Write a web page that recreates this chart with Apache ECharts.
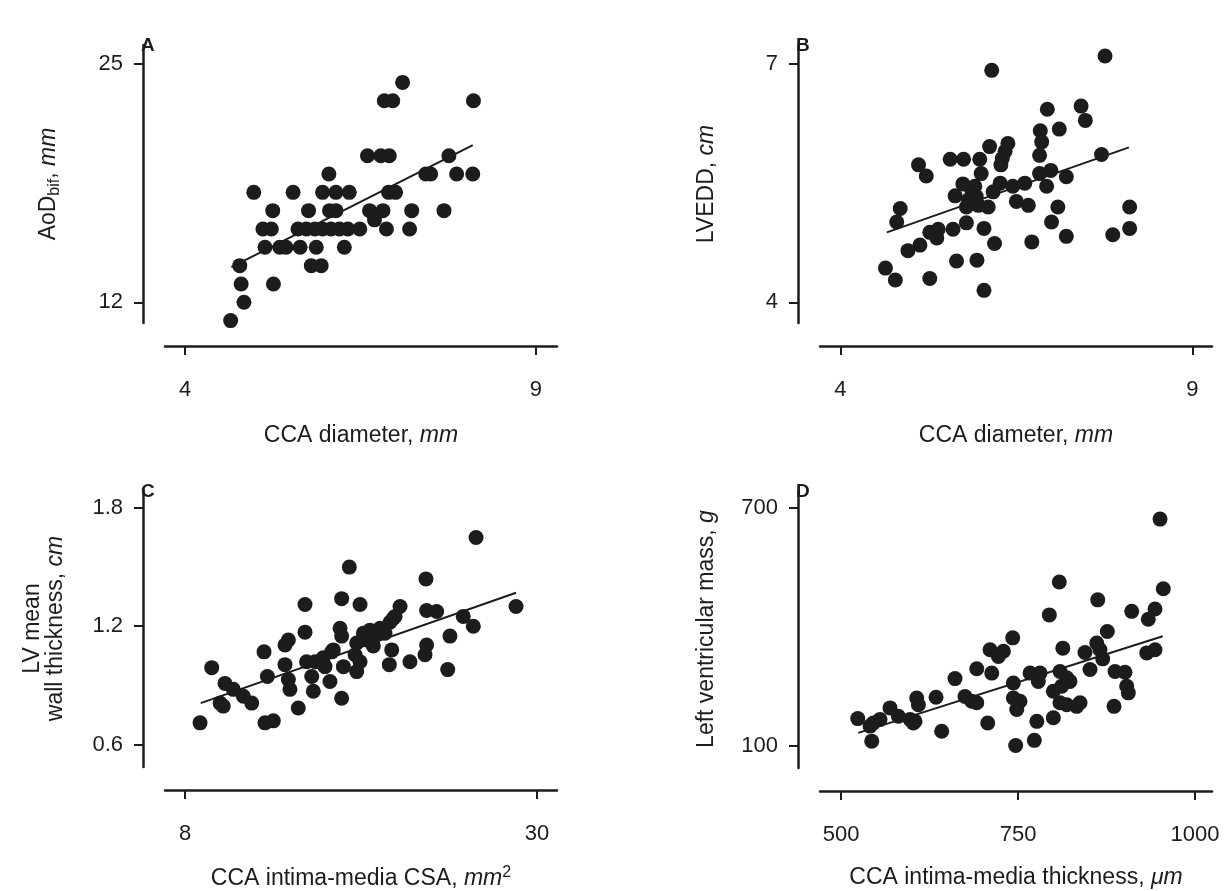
<!DOCTYPE html>
<html>
<head>
<meta charset="utf-8">
<script src="https://cdn.jsdelivr.net/npm/echarts@6/dist/echarts.min.js"></script>
<style>
  html, body { margin: 0; padding: 0; background: #fff; }
  #chart { width: 1231px; height: 891px; }
</style>
</head>
<body>
<div id="chart"></div>
<script>
// A: CCA diameter (mm) vs AoD bif (mm)
const ptsA = [
    [7.10, 24], [6.84, 23], [6.96, 23], [8.11, 23],
    [6.60, 20], [6.79, 20], [6.91, 20], [7.76, 20],
    [7.43, 19], [7.50, 19], [7.87, 19], [8.10, 19], [6.05, 19],
    [4.98, 18], [5.54, 18], [5.96, 18], [6.15, 18], [6.34, 18], [6.90, 18], [7.00, 18],
    [5.25, 17], [5.76, 17], [6.06, 17], [6.15, 17], [6.63, 17], [6.82, 17], [6.70, 16.5], [7.23, 17], [7.69, 17],
    [5.11, 16], [5.23, 16], [5.61, 16], [5.73, 16], [5.85, 16], [5.96, 16], [6.08, 16], [6.20, 16], [6.32, 16], [6.49, 16], [6.87, 16], [7.20, 16],
    [5.14, 15], [5.35, 15], [5.44, 15], [5.64, 15], [5.87, 15], [6.27, 15],
    [5.80, 14], [5.94, 14], [4.78, 14],
    [4.80, 13], [5.26, 13],
    [4.84, 12],
    [4.65, 11]
];
const lineA = [[4.66, 13.92], [8.10, 20.58]];

// B: CCA diameter (mm) vs LVEDD (cm)
const ptsB = [
    [7.76, 7.10], [6.15, 6.92], [6.94, 6.43], [7.42, 6.47], [7.48, 6.29], [7.11, 6.18], [6.84, 6.16], [6.86, 6.02], [6.83, 5.85], [7.71, 5.86],
    [6.12, 5.96], [6.38, 6.00], [6.34, 5.90], [6.30, 5.81], [6.28, 5.73], [5.56, 5.80], [5.75, 5.80], [5.98, 5.80], [5.11, 5.73], [5.22, 5.59],
    [6.00, 5.62], [6.83, 5.62], [6.99, 5.66], [7.21, 5.58], [6.93, 5.46], [5.74, 5.49], [5.91, 5.46], [6.27, 5.50], [6.45, 5.46], [6.62, 5.50],
    [6.17, 5.39], [5.63, 5.34], [5.82, 5.29], [5.93, 5.33], [5.79, 5.20], [5.96, 5.22], [6.10, 5.20], [6.50, 5.27], [6.67, 5.22], [7.09, 5.20],
    [8.11, 5.20], [4.85, 5.18], [4.80, 5.01], [7.00, 5.01], [5.79, 5.00], [5.60, 4.92], [5.39, 4.92], [5.27, 4.88], [5.37, 4.81], [6.04, 4.93],
    [6.19, 4.74], [6.72, 4.76], [7.21, 4.83], [7.87, 4.85], [8.11, 4.93], [5.13, 4.72], [4.96, 4.65], [5.65, 4.52], [5.94, 4.53], [4.64, 4.43],
    [4.78, 4.28], [5.27, 4.30], [6.04, 4.15], [5.86, 5.43]
];
const lineB = [[4.66, 4.88], [8.10, 5.95]];

// C: CCA intima-media CSA (mm2) vs LV mean wall thickness (cm)
const ptsC = [
    [26.19, 1.65], [18.27, 1.50], [23.06, 1.44], [15.5, 1.31], [17.79, 1.34], [18.94, 1.31], [21.44, 1.30], [28.69, 1.30], [23.1, 1.28], [23.73, 1.275],
    [25.39, 1.25], [26.02, 1.20], [21.02, 1.24], [20.81, 1.22], [17.69, 1.19], [17.79, 1.15], [15.5, 1.17], [19.56, 1.18], [20.19, 1.19], [20.5, 1.165],
    [19.35, 1.13], [18.73, 1.115], [14.46, 1.13], [14.25, 1.105], [12.94, 1.07], [17.27, 1.08], [19.77, 1.10], [20.92, 1.08], [23.1, 1.105], [23.0, 1.055],
    [24.56, 1.15], [9.67, 0.99], [14.25, 1.005], [15.6, 1.02], [16.13, 1.02], [16.75, 0.995], [17.9, 0.995], [18.73, 0.97], [18.94, 1.02], [20.77, 1.005],
    [22.06, 1.02], [24.42, 0.98], [13.15, 0.945], [10.5, 0.91], [11.02, 0.88], [11.65, 0.845], [12.17, 0.81], [10.19, 0.81], [10.39, 0.795], [14.46, 0.93],
    [14.56, 0.88], [15.92, 0.945], [16.02, 0.87], [17.06, 0.92], [17.79, 0.835], [15.08, 0.785], [13.0, 0.71], [13.52, 0.72], [8.94, 0.71], [16.64, 1.04],
    [17.17, 1.07], [18.63, 1.055], [19.77, 1.14], [19.15, 1.165], [21.13, 1.25]
];
const lineC = [[8.98, 0.81], [28.69, 1.37]];

// D: CCA intima-media thickness (um) vs left ventricular mass (g)
const ptsD = [
    [950.6, 672], [808.3, 513], [955.2, 496], [862.6, 468], [794.2, 430], [910.6, 439], [943.5, 445], [934, 419], [876.1, 388], [742.5, 372],
    [861.2, 359], [865.8, 342], [813.3, 346], [710.5, 342], [729.4, 338], [722.2, 325], [844.6, 335], [943.5, 342], [931.8, 334], [869.6, 319],
    [691.7, 294], [712.9, 283], [851.7, 292], [661, 269], [767, 283], [781.1, 283], [778.7, 262], [743.4, 258], [809.3, 287], [818.8, 271],
    [811.7, 250], [823.4, 262], [887, 287], [901.1, 285], [903.5, 250], [905.8, 233], [799.9, 237], [743.4, 220], [752.8, 212], [748.2, 191],
    [809.3, 208], [818.8, 203], [832.9, 199], [837.6, 208], [885.6, 199], [675.1, 224], [684.6, 212], [691.7, 208], [634.2, 222], [606.9, 220],
    [609.3, 203], [604.5, 161], [569.2, 195], [581, 174], [545.6, 157], [555.1, 166], [541, 149], [523.6, 168], [543.4, 111], [642.2, 136],
    [707.2, 157], [776.6, 161], [799.9, 170], [746.7, 100], [773, 113], [597.5, 166], [602.1, 157]
];
const lineD = [[524.4, 132], [954.4, 376]];

// tick labels
const ticksAx = [4, 9], ticksAy = [12, 25];
const ticksBx = [4, 9], ticksBy = [4, 7];
const ticksCx = [8, 30], ticksCy = [0.6, 1.2, 1.8];
const ticksDx = [500, 750, 1000], ticksDy = [100, 700];

const font = '"Liberation Sans", Arial, Helvetica, sans-serif';
const ink = '#1c1c1c';
const rich = {
    n: { fontSize: 23, fontFamily: font, color: ink },
    i: { fontSize: 23, fontFamily: font, color: ink, fontStyle: 'italic' },
    sub: { fontSize: 16, fontFamily: font, color: ink, padding: [12, 0, 0, 0] },
    sup: { fontSize: 16, fontFamily: font, color: ink, padding: [0, 0, 11, 0] }
};

function xAxisFor(idx, min, max, ticks, name, gap) {
    return {
        gridIndex: idx, type: 'value', min: min, max: max,
        offset: 23,
        name: name, nameLocation: 'middle', nameGap: gap,
        nameTextStyle: { rich: rich },
        axisLine: { onZero: false, lineStyle: { color: ink, width: 2.5 } },
        axisTick: { customValues: ticks, length: 9, lineStyle: { color: ink, width: 2 } },
        axisLabel: { customValues: ticks, margin: 33, fontSize: 22, fontFamily: font, color: ink, formatter: v => String(v) },
        splitLine: { show: false }
    };
}
function yAxisFor(idx, min, max, ticks, name, fmt, gap) {
    return {
        gridIndex: idx, type: 'value', min: min, max: max,
        offset: 22,
        name: name, nameLocation: 'middle', nameGap: gap, nameRotate: 90,
        nameTextStyle: { rich: rich, align: 'center' },
        axisLine: { onZero: false, lineStyle: { color: ink, width: 2.5 } },
        axisTick: { customValues: ticks, length: 9, lineStyle: { color: ink, width: 2 } },
        axisLabel: { customValues: ticks, margin: 20, fontSize: 22, fontFamily: font, color: ink, formatter: fmt },
        splitLine: { show: false }
    };
}
function dots(idx, data) {
    return {
        type: 'scatter', xAxisIndex: idx, yAxisIndex: idx, data: data,
        symbolSize: 15, itemStyle: { color: ink, opacity: 1 }, silent: true
    };
}
function fit(idx, data) {
    return {
        type: 'line', xAxisIndex: idx, yAxisIndex: idx, data: data,
        symbol: 'none', lineStyle: { color: ink, width: 2 }, silent: true, z: 3
    };
}
function letter(txt, x, y) {
    return {
        type: 'text', left: x, top: y,
        style: { text: txt, font: 'bold 19px ' + font, fill: ink }
    };
}

const chart = echarts.init(document.getElementById('chart'), null, { renderer: 'canvas' });
const option = {
    backgroundColor: '#fff',
    animation: false,
    grid: [
        { left: 165, top: 45, width: 392, height: 278 },
        { left: 820, top: 45, width: 392, height: 278 },
        { left: 165, top: 490, width: 392, height: 278 },
        { left: 820, top: 490, width: 392, height: 278 }
    ],
    xAxis: [
        xAxisFor(0, 3.715, 9.30, ticksAx, '{n|CCA diameter, }{i|mm}', 78),
        xAxisFor(1, 3.71, 9.28, ticksBx, '{n|CCA diameter, }{i|mm}', 78),
        xAxisFor(2, 6.75, 31.25, ticksCx, '{n|CCA intima-media CSA, }{i|mm}{sup|2}', 75),
        xAxisFor(3, 470.3, 1024, ticksDx, '{n|CCA intima-media thickness, }{i|μm}', 75)
    ],
    yAxis: [
        yAxisFor(0, 10.87, 26.04, ticksAy, '{n|AoD}{sub|bif}{n|, }{i|mm}', v => String(v), 80),
        yAxisFor(1, 3.739, 7.239, ticksBy, '{n|LVEDD, }{i|cm}', v => String(v), 80),
        yAxisFor(2, 0.486, 1.891, ticksCy, '{n|LV mean}\n{n|wall thickness, }{i|cm}', v => v.toFixed(1), 76),
        yAxisFor(3, 43.2, 745.5, ticksDy, '{n|Left ventricular mass, }{i|g}', v => String(v), 80)
    ],
    series: [
        dots(0, ptsA), fit(0, lineA),
        dots(1, ptsB), fit(1, lineB),
        dots(2, ptsC), fit(2, lineC),
        dots(3, ptsD), fit(3, lineD)
    ],
    graphic: [
        letter('A', 141, 36),
        letter('B', 796, 36),
        letter('C', 141, 482),
        letter('D', 796, 482)
    ]
};
chart.setOption(option);
</script>
</body>
</html>
